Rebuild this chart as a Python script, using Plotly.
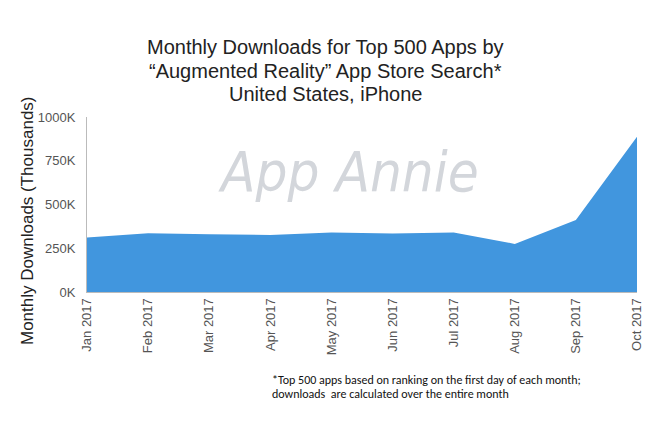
import plotly.graph_objects as go

months = ["Jan 2017", "Feb 2017", "Mar 2017", "Apr 2017", "May 2017",
          "Jun 2017", "Jul 2017", "Aug 2017", "Sep 2017", "Oct 2017"]
downloads_k = [311, 336, 330, 326, 340, 334, 340, 275, 411, 887]
y_ticks = [0, 250, 500, 750, 1000]
y_tick_labels = ["0K", "250K", "500K", "750K", "1000K"]
title_lines = ["Monthly Downloads for Top 500 Apps by",
               "“Augmented Reality” App Store Search*",
               "United States, iPhone"]
note_lines = ["*Top 500 apps based on ranking on the first day of each month;",
              "downloads  are calculated over the entire month"]

# page has 8px body margin; figure coordinates = page - 8
W, H = 642, 416
L, R, T, B = 79, 629, 109, 284
PW, PH = R - L, B - T


def px(xf):
    return (xf - L) / PW


def py(yf):
    return (B - yf) / PH


fig = go.Figure()
fig.add_trace(go.Scatter(
    x=months, y=downloads_k, mode="lines", fill="tozeroy",
    line=dict(color="#4196DE", width=0), fillcolor="#4196DE",
    hoverinfo="x+y"))

fig.update_layout(
    width=W, height=H,
    margin=dict(l=L, r=W - R, t=T, b=H - B, autoexpand=False),
    paper_bgcolor="white", plot_bgcolor="white",
    showlegend=False,
    font=dict(family="Liberation Sans, Arial, sans-serif", color="#222"),
    xaxis=dict(
        type="category", range=[0, 9], showgrid=False, zeroline=False,
        showline=True, linecolor="#BBBBBB", linewidth=1, automargin=False,
        tickangle=-90, ticks="", tickfont=dict(size=13, color="#555")),
    yaxis=dict(
        range=[0, 1000], tickvals=y_ticks, ticktext=y_tick_labels,
        showgrid=False, zeroline=False, showline=True, linecolor="#BBBBBB",
        linewidth=1, ticks="", tickfont=dict(size=13, color="#555"),
        ticklabelstandoff=8, automargin=False),
)

# watermark
fig.add_annotation(
    text="<i>App Annie</i>", xref="paper", yref="paper",
    x=px(340), y=py(129),
    showarrow=False, font=dict(size=56, color="#D3D6DB",
                               family="Liberation Sans Narrow, DejaVu Sans Condensed, sans-serif"))

# title lines
for line, yc in zip(title_lines, [39, 63, 86]):
    fig.add_annotation(
        text=line, xref="paper", yref="paper", x=px(317), y=py(yc),
        xanchor="center", yanchor="middle", showarrow=False,
        font=dict(size=20, color="#222"))

# y-axis title
fig.add_annotation(
    text="Monthly Downloads (Thousands)", xref="paper", yref="paper",
    x=px(19), y=py(213), textangle=-90, xanchor="center", yanchor="middle",
    showarrow=False, font=dict(size=17, color="#222"))

# footnote
for line, yc in zip(note_lines, [372, 386]):
    fig.add_annotation(
        text=line, xref="paper", yref="paper", x=px(262), y=py(yc),
        xanchor="left", yanchor="middle", align="left", showarrow=False,
        font=dict(size=12, color="#111", family="Carlito, Liberation Sans, sans-serif"))

fig.write_html("out.html")
